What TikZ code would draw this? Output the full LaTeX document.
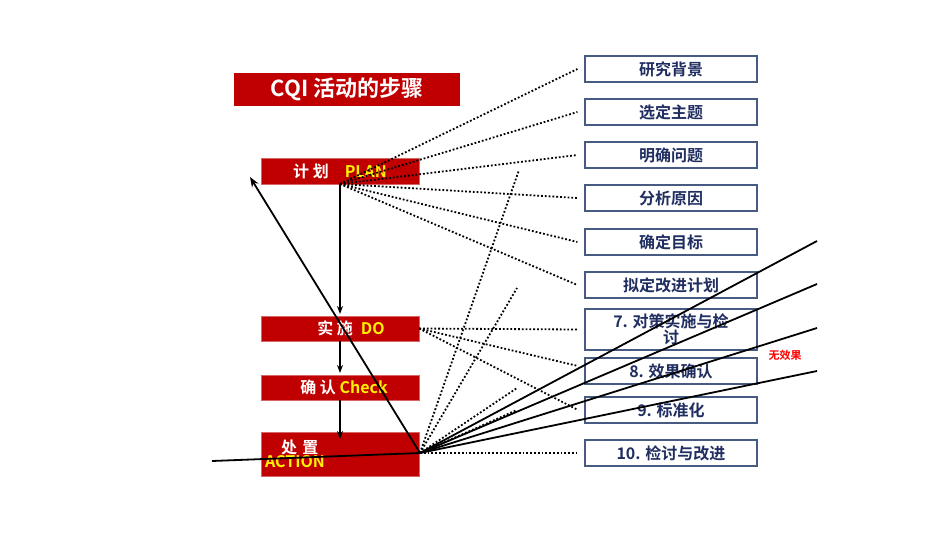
\documentclass[tikz,border=0pt]{standalone}
\usepackage{fontspec}
\setmainfont{Noto Sans CJK SC}[BoldFont={Noto Sans CJK SC Bold}]
\usetikzlibrary{arrows.meta}
\definecolor{stepred}{RGB}{192,0,0}
\definecolor{navy}{RGB}{31,45,96}
\definecolor{boxline}{RGB}{70,90,130}
\tikzset{
	phase/.style={fill=stepred, draw=stepred!60, minimum width=158pt, inner sep=0pt, font=\bfseries\fontsize{16}{17}\selectfont, text=white},
	item/.style={draw=boxline, line width=1.2pt, minimum width=172pt, minimum height=26pt, inner sep=0pt, font=\bfseries\fontsize{16}{16}\selectfont, text=navy, align=center},
	dots/.style={dotted, line width=1.8pt},
	solid line/.style={line width=1.8pt},
}
\begin{document}
\begin{tikzpicture}[x=1pt, y=-1pt]
		\useasboundingbox (0,0) rectangle (950,535);
		
		% title
		\node[fill=stepred, minimum width=226pt, minimum height=33pt, text=white, font=\bfseries\fontsize{22}{22}\selectfont] (title) at (347, 89.5) {CQI 活动的步骤};
		
		% steps on the left
		\node[phase, minimum height=26pt] (plan) at (340, 171) {计 划\quad\textcolor{yellow}{PLAN}};
		\node[phase, minimum height=25pt] (do) at (340, 328.5) {\hspace{22pt}实 施\enspace\textcolor{yellow}{DO}};
		\node[phase, minimum height=25pt] (check) at (340, 387.5) {\hspace{8pt}确 认 \textcolor{yellow}{Check}};
		\node[phase, minimum height=44pt, text width=150pt, align=left] (act) at (340, 454) {\hspace{16pt}处 置\\[-3pt]\textcolor{yellow}{ACTION}};
		
		% items on the right
		\node[item] (i1) at (671, 69) {研究背景};
		\node[item] (i2) at (671, 112) {选定主题};
		\node[item] (i3) at (671, 155) {明确问题};
		\node[item] (i4) at (671, 198) {分析原因};
		\node[item] (i5) at (671, 242) {确定目标};
		\node[item] (i6) at (671, 285) {拟定改进计划};
		\node[item, minimum height=41pt, font=\bfseries\fontsize{16}{13}\selectfont] (i7) at (671, 329.5) {7. 对策实施与检\\讨};
		\node[item] (i8) at (671, 371) {8. 效果确认};
		\node[item] (i9) at (671, 410) {9. 标准化};
		\node[item] (i10) at (671, 453) {10. 检讨与改进};
		\node[text=red, font=\bfseries\fontsize{11}{11}\selectfont] (none) at (785, 355) {无效果};
		
		% flow down the steps
		\coordinate (p) at (340, 184);
		\coordinate (a) at (420, 453);
		\draw[->, solid line, >={Stealth[length=8pt]}] (p) -- (340, 314);
		\draw[->, solid line, >={Stealth[length=8pt]}] (340, 341) -- (340, 373);
		\draw[->, solid line, >={Stealth[length=8pt]}] (340, 400) -- (340, 439);
		\draw[->, solid line, >={Stealth[length=10pt]}] (a) -- (250, 177);
		\draw[solid line] (212, 461) -- (a);
		
		% dotted links
		\foreach \i in {1,...,6} \draw[dots] (p) -- ([xshift=-7pt]i\i.west);
		\draw[dots] (do.east) -- ([xshift=-7pt]i7.west);
		\draw[dots] (do.east) -- (578, 366);
		\draw[dots] (do.east) -- (578, 410);
		\draw[dots] (a) -- ([xshift=-7pt]i10.west);
		\draw[dots] (a) -- (519, 170);
		\draw[dots] (a) -- (517, 288);
		\draw[dots] (a) -- (517, 388);
		\draw[dots] (a) -- (517, 410);
		
		% solid fan
		\foreach \y in {241, 284, 328, 371} \draw[solid line] (a) -- (817, \y);
		
	\end{tikzpicture}
\end{document}
